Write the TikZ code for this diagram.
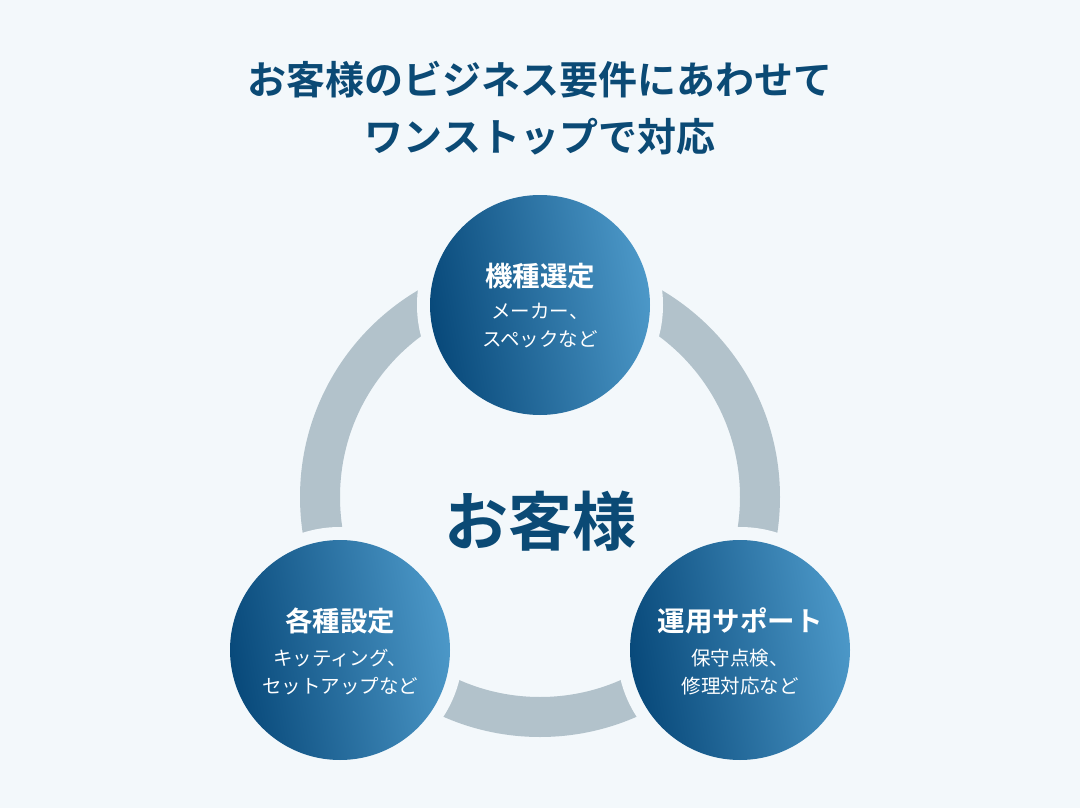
\documentclass[tikz,border=0pt]{standalone}
\usepackage{fontspec}
\setmainfont{Noto Sans CJK JP}
\newfontfamily\jpb{Noto Sans CJK JP Bold}
\definecolor{bgc}{HTML}{F3F8FB}
\definecolor{navy}{HTML}{0B4A75}
\definecolor{cdark}{HTML}{08497A}
\definecolor{clight}{HTML}{4C98C8}
\definecolor{ringc}{HTML}{B2C2CB}
\begin{document}
\begin{tikzpicture}[x=1pt,y=-1pt,
  gapc/.style={circle,minimum size=246pt,inner sep=0pt,fill=bgc},
  bubble/.style={circle,minimum size=220pt,inner sep=0pt,left color=cdark,right color=clight,shading angle=100},
  ttl/.style={font=\jpb\fontsize{27.5}{30}\selectfont,text=white},
  sub/.style={font=\fontsize{19.5}{28}\selectfont,text=white,align=center}]
\fill[bgc] (0,0) rectangle (1080,808);
\useasboundingbox (0,0) rectangle (1080,808);
\node[font=\jpb\fontsize{39}{57}\selectfont,text=navy,align=center] (title) at (540,108) {お客様のビジネス要件にあわせて\\ワンストップで対応};
\coordinate (ctr) at (540,497);
\draw[ringc,line width=40pt] (ctr) circle[radius=220];
\node[gapc] (g1) at (540,305) {};
\node[gapc] (g2) at (340,650) {};
\node[gapc] (g3) at (740,650) {};
\node[bubble] (top) at (540,305) {};
\node[bubble] (left) at (340,650) {};
\node[bubble] (right) at (740,650) {};
\node[font=\jpb\fontsize{64}{66}\selectfont,text=navy] (center) at (540,521) {お客様};
\node[ttl] (t1) at (540,276) {機種選定};
\node[sub] (s1) at (540,326) {メーカー、\\スペックなど};
\node[ttl] (t2) at (340,621) {各種設定};
\node[sub] (s2) at (340,672) {キッティング、\\セットアップなど};
\node[ttl] (t3) at (740,621) {運用サポート};
\node[sub] (s3) at (740,672) {保守点検、\\修理対応など};
\end{tikzpicture}
\end{document}
